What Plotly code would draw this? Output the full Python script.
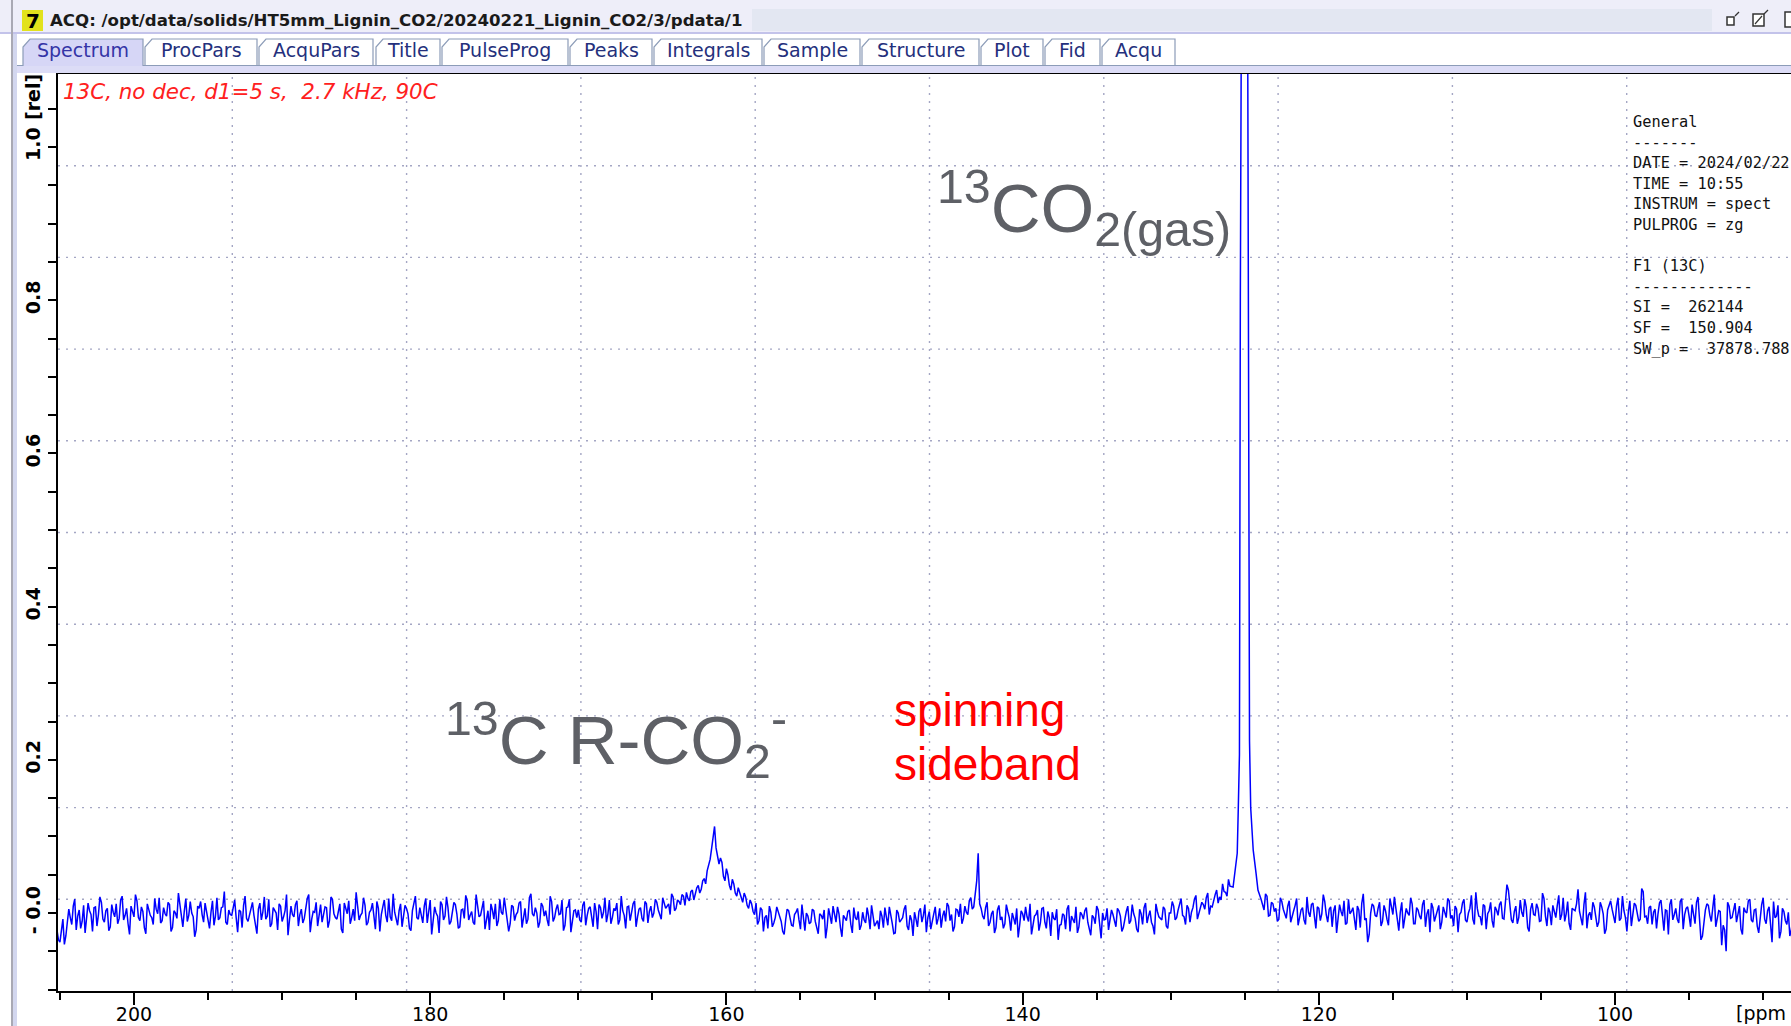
import plotly.graph_objects as go

# ---------------- data (intensities in 1/1000 rel units) ----------------
STEP = 0.2  # ppm spacing inside each list; the "b" lists sit half a step further upfield

seg1_start = 205.2   # baseline 205.2 -> ~170.2 ppm
seg1 = [-22, -38, -8, -30, 5, -15, 18, -4, -20, 10, -9, 3, -24, 8, -2, 14, -12, 6, -18, 1,
        12, -7, 22, -3, -14, 9, -5, 16, -10, 2, -27, 4, -6, 19, -1, -13, 7, -4, 11, -19,
        0, 26, -8, 3, -11, 15, -5, -22, 6, -2, 13, -9, 1, -16, 20, -6, 8, -12, 4, -3,
        17, -25, 2, 10, -7, -1, 14, -15, 5, -9, 21, -4, -18, 7, 0, 12, -11, 3, -29, 9,
        -5, 16, -2, -13, 6, 24, -8, 1, -17, 11, -3, 7, -10, 18, -6, 2, -21, 13, -1, -14,
        5, 27, -9, 0, 10, -12, 4, -7, 15, -24, 8, -3, 19, -10, 1, -16, 12, -5, 6, -20,
        3, 22, -8, -2, 9, -13, 17, -6, 0, -26, 11, -4, 7, -11, 14, -1, -18, 5, 23, -9,
        2, -15, 10, -3, 16, -7, -22, 4, 12, -10, 1, 20, -5, -14, 8, -2, 13, -19, 6, -8,
        25, -4, 0, -12, 9, 3, -17, 15, -6, 11, -1, -23, 7, 18, -9, 4]
seg1b = [-35, -18, -41, -12, -6, 9, -22, 4, -11, -26, 13, -2, 7, -17, 21, -8, 3, -23, 11, -5,
         -14, 17, -9, 6, -28, 1, 24, -6, 8, -19, 12, -3, -15, 5, 20, -10, -1, 14, -24, 3,
         -7, 11, -18, 19, -3, 0, -31, 9, 15, -12, 2, -20, 16, -4, -9, 7, 28, -15, -2, 10,
         -6, 4, -19, 22, -11, 6, -3, -27, 13, 1, -8, 18, -14, 3, -22, 9, -5, 24, -9, -2,
         11, -17, 5, -7, 19, -25, 2, 14, -4, -12, 8, -19, 21, -1, -8, 12, -26, 4, 16, -6,
         -10, 9, -3, 20, -16, 1, 13, -21, 6, -2, 17, -12, -5, 25, -8, 3, -18, 10, -1, -23,
         14, -6, 7, -13, 19, 2, -28, 8, -4, 15, -9, 21, -15, 0, 11, -20, 4, -7, 16, -3,
         -12, 24, -5, 9, -21, 3, 12, -8, -17, 18, -2, 6, -24, 10, -10, 1, 15, -6, -14, 20,
         -1, 7, -19, 13, -4, -9, 22, -11, 5, -2, 17, -16, 8, -25, 3, -6]

seg2_start = 170.0   # carboxylate hump ~160.8 ppm
seg2 = [4, -12, 15, -3, 8, -18, 2, 11, -7, 20, -1, -14, 6, 13, -9, 3, -20, 9, 0, 16,
        -5, 7, -11, 12, 2, -6, 18, 4, -8, 14, 9, -2, 21, 6, 15, 24, 10, 19, 28, 17,
        33, 26, 42, 38, 62, 84, 113, 76, 72, 48, 58, 36, 44, 26, 33, 18, 26, 10, 17, 2,
        13, -10, 4, -6, -20, 1, -13, 8, -4, -24, -9, 3, -16, -2, 6, -21, -8, 0, -14, 5,
        -11, -27, -3, 4, -18, -7, 9, -12, -1, -31, -6, 2, -15, 7, -9, -22, 1, -13, -4, 10, -17]
seg2b = [-9, 10, -16, 6, -4, 13, -21, 7, 1, -12, 17, -6, 3, -15, 22, -3, 8, -10, 12, -18,
         5, -7, 15, -13, 9, 0, 14, -4, 20, 6, 12, 25, 3, 17, 11, 22, 27, 16, 30, 24,
         36, 31, 45, 55, 70, 96, 85, 64, 66, 42, 50, 30, 38, 22, 27, 14, 21, 6, 12, -2,
         -15, 7, -24, -3, 9, -18, -6, 2, -11, -28, 5, -7, -17, 1, -9, 11, -23, -4, -12, 3,
         -20, -1, -8, -33, 6, -14, -5, 8, -19, -3, -10, 4, -26, -6, 2, -16, -9, 7, -21, -2]

seg3_start = 149.8   # spinning sideband ~143 ppm
seg3 = [-10, 3, -19, -5, 8, -14, -26, 0, -9, 5, -17, -3, -30, -8, 2, -12, 11, -6, -21, -1,
        -15, 6, -4, -11, 9, -2, -18, 4, 12, -7, 1, 16, 5, 28, 78, 6, -8, 14, -12, 3,
        -19, 10, -5, -14, 2, -23, -7, 6, -16, -1, 8, -11, -28, -4, 4, -13, 7, -20, -6, 1,
        -9, -35, -15, -3, 5, -24, -10, 8, -18, -2, 3, -12, -29, -6, 9, -16, 0, -8, -22, 4,
        -11, 6, -4, -19, 2, -14, 11, -7, -25, -1, 7, -13, 3, -17, 12, -5, -9, 5, -20, 0,
        9, -6, 14, -3, -15, 6, 1, 18, -8, 4, 11, 20, -2, 8, 24, 13, 17, 28, 22, 35]
seg3b = [-21, -4, 7, -16, -1, -27, 4, -12, -6, 10, -22, -9, 1, -18, 6, -3, -25, 2, -13, 8,
         -7, -19, 3, 13, -10, -24, 5, -5, -14, 9, -2, 20, 8, 42, 12, -4, 7, -17, -1, -26,
         4, -9, -20, 11, -6, 0, -15, -32, 3, -10, -5, 12, -18, -2, -23, 6, -12, 2, -30, -7,
         5, -16, -1, -21, 10, -4, -13, -26, 1, -8, 7, -20, -3, -14, 4, -33, -9, 6, -11, -2,
         -18, 3, -24, -6, 9, -10, -1, -21, 5, -15, 13, -4, -12, -28, 2, -7, 8, -17, 0, 15,
         -9, 4, 19, -5, 10, -12, 7, 23, -1, 14, 5, 26, 9, 18, 30, 21, 38, 27, 44]

# 13CO2 gas line (~125 ppm), goes off scale
peak_ppm = [125.79, 125.59, 125.51, 125.44, 125.36, 125.30, 125.17,
            124.85, 124.73, 124.68, 124.60, 124.49, 124.43, 124.24, 124.11]
peak_val = [34, 65, 78, 135, 207, 805, 1500,
            1500, 805, 224, 137, 108, 82, 52, 30]

seg4_start = 123.9   # baseline 123.9 -> 87.9 ppm
seg4 = [18, 4, 22, -3, 12, 6, -8, 15, -1, 9, -12, 3, 19, -6, 7, -15, 1, 11, -4, 8,
        -10, 24, -2, 5, -18, 10, -7, 2, 16, -13, -1, 7, -22, 4, 13, -9, -38, 0, 9, -5,
        14, -11, 3, -16, 8, 21, -6, 1, -20, 6, -3, 12, -14, 4, -8, 17, -1, -25, 7, -4,
        10, -12, 2, 19, -7, -17, 5, -2, 13, -9, 0, 23, -15, 6, -5, 11, -21, 3, -10, 8,
        -3, 15, -8, 37, 4, -13, 9, -6, 1, 18, -19, 5, -2, 12, -11, 26, -4, 7, -16, 2,
        10, -9, 20, -1, -14, 6, 3, 31, -7, 11, -20, 1, 14, -5, -12, 8, -27, 4, 16, -3,
        9, -10, 22, -6, 2, -17, 13, 0, -8, 28, -4, 7, -15, 5, -1, 17, -23, 3, 11, -9,
        6, -13, 19, -2, 8, -18, 1, 14, -7, -30, 4, 10, -11, 24, -5, 2, -16, -50, 9, -6,
        13, -3, -21, 7, 0, 18, -12, 5, -26, 11, -8, 3, -19, 15, -4, -33, 6, -10, 1, -22, 8]
seg4b = [9, 25, -4, 14, 2, -11, 20, 5, -7, 16, -2, 10, -16, 4, -9, 21, -5, 13, -20, 6,
         -1, 15, -12, 8, 3, -26, 11, -4, -15, 18, 2, -10, 9, -19, 25, -7, -28, 12, -3, 6,
         -17, 10, -8, 19, -2, 4, -23, 14, -9, 0, 20, -14, 7, -4, 11, -18, 5, 13, -11, 2,
         -21, 8, -6, 16, -3, 9, -25, 1, 18, -12, 6, -8, 27, -4, -16, 9, -1, 14, -19, 4,
         11, -7, 22, 30, -9, 2, -14, 17, -5, 8, -24, 13, -3, 6, -10, 19, -17, 1, 10, -6,
         23, -2, -11, 15, -22, 5, 12, 2, -16, 27, -3, -9, 8, -18, 14, -1, -21, 11, 5, -13,
         20, -7, 3, -24, 16, -2, 10, -11, 32, -5, -14, 9, 1, -20, 13, -6, 4, -28, 18, -2,
         -8, 15, -21, 6, -4, 11, -14, 21, -35, -9, 12, -3, 7, -18, 3, -42, -22, 14, -7, 5,
         -12, 9, -28, 2, 16, -9, 4, -17, -3, 20, -14, 8, -38, -6, 10, -24, 2, -15, -30, -4]

y_tickvals = [0.0, 0.2, 0.4, 0.6, 0.8, 1.0]
y_ticktext = ["- 0.0", "0.2", "0.4", "0.6", "0.8", "1.0"]

info_lines = ["General", "-------", "DATE = 2024/02/22", "TIME = 10:55",
              "INSTRUM = spect", "PULPROG = zg", "", "F1 (13C)", "-------------",
              "SI =  262144", "SF =  150.904", "SW_p =  37878.788"]

tabs = ["Spectrum", "ProcPars", "AcquPars", "Title", "PulseProg", "Peaks",
        "Integrals", "Sample", "Structure", "Plot", "Fid", "Acqu"]

# ---------------- assemble spectrum ----------------
def ppm_axis(start, vals):
    return [round(start - STEP * i, 3) for i in range(len(vals))]

half = STEP / 2
pairs = []
for start, a, b in [(seg1_start, seg1, seg1b), (seg2_start, seg2, seg2b),
                    (seg3_start, seg3, seg3b), (seg4_start, seg4, seg4b)]:
    pairs += list(zip(ppm_axis(start, a), a))
    pairs += list(zip(ppm_axis(start - half, b), b))
pairs += list(zip(peak_ppm, peak_val))
pairs.sort(key=lambda p: -p[0])
x = [p[0] for p in pairs]
y = [p[1] / 1000.0 for p in pairs]

# ---------------- geometry helpers ----------------
W, H = 1791, 1026
L, T, B, R = 58, 74, 35, 0
PW, PH = W - L - R, H - T - B

def px(v):
    return (v - L) / PW

def py(v):
    return 1 - (v - T) / PH

fig = go.Figure()
fig.add_trace(go.Scatter(x=x, y=y, mode="lines",
                         line=dict(color="#0000ff", width=1.5),
                         hoverinfo="skip"))

shapes = []
annos = []

# dotted grid (TopSpin divides window into 10 x 10)
for k in range(1, 10):
    gx = px(58 + 174.3 * k)
    shapes.append(dict(type="line", xref="paper", yref="paper", x0=gx, x1=gx, y0=0, y1=1,
                       line=dict(color="#a4a6c4", width=1.4, dash="2px,6px"), layer="below"))
    gy = py(74 + 91.7 * k)
    shapes.append(dict(type="line", xref="paper", yref="paper", x0=0, x1=1, y0=gy, y1=gy,
                       line=dict(color="#a4a6c4", width=1.4, dash="2px,6px"), layer="below"))

def rect(x0, y0, x1, y1, fill, line=None, lw=0):
    shapes.append(dict(type="rect", xref="paper", yref="paper",
                       x0=px(x0), x1=px(x1), y0=py(y1), y1=py(y0),
                       fillcolor=fill, line=dict(color=line or fill, width=lw),
                       layer="above"))

def seg(x0, y0, x1, y1, color, w):
    shapes.append(dict(type="line", xref="paper", yref="paper", x0=px(x0), x1=px(x1),
                       y0=py(y0), y1=py(y1), line=dict(color=color, width=w), layer="above"))

# window chrome: title bar
rect(0, 0, W, 33, "#eeeef9")
rect(752, 9, 1712, 31, "#e3e7f2")
seg(0, 33, W, 33, "#c3c3ea", 2)
rect(22, 10, 43, 31, "#e2e21c")
# window buttons
rect(1727, 17, 1734, 25, "white", "#333333", 1.5)
seg(1735, 16, 1739, 12, "#333333", 1.2)
rect(1753, 14, 1764, 26, "white", "#333333", 1.5)
seg(1755, 24, 1762, 16, "#333333", 1.2)
seg(1764, 14, 1768, 10, "#333333", 1.2)
rect(1785, 12, 1796, 27, "white", "#333333", 1.5)
# left border
rect(11, 0, 13, H, "#a9a9b4")
rect(13, 34, 17, H, "#d3d7ef")
# strip under tabs
rect(17, 65, W, 73, "#dcdcf6")
seg(17, 65.5, W, 65.5, "#8c9cb8", 1.2)

tab_px = [(23, 143), (145, 257), (259, 373), (376, 440), (442, 568), (570, 652),
          (654, 762), (764, 860), (862, 979), (981, 1043), (1045, 1100), (1102, 1175)]
for i, (name, (a, b)) in enumerate(zip(tabs, tab_px)):
    sel = i == 0
    path = "M {},{} L {},{} L {},{} L {},{} L {},{}".format(
        px(a), py(66 if sel else 65.5), px(a), py(47), px(a + 7), py(39),
        px(b), py(39), px(b), py(66 if sel else 65.5))
    if not sel:
        path += " Z"
    shapes.append(dict(type="path", xref="paper", yref="paper", path=path,
                       fillcolor="#d6d6f6" if sel else "white",
                       line=dict(color="#8c9cb8", width=1.2), layer="above"))
    annos.append(dict(text=name, x=px((a + b) / 2), y=py(50), xref="paper", yref="paper",
                      showarrow=False, xanchor="center", yanchor="middle",
                      font=dict(family="DejaVu Sans", size=19,
                                color="#3434a6" if sel else "#24307c")))

annos.append(dict(text="<b>7</b>", x=px(32.5), y=py(21), xref="paper", yref="paper",
                  showarrow=False, xanchor="center", yanchor="middle",
                  font=dict(family="DejaVu Sans", size=20, color="black")))
annos.append(dict(text="<b>ACQ: /opt/data/solids/HT5mm_Lignin_CO2/20240221_Lignin_CO2/3/pdata/1</b>",
                  x=px(48), y=py(20), xref="paper", yref="paper", showarrow=False,
                  xanchor="left", yanchor="middle",
                  font=dict(family="DejaVu Sans", size=16.6, color="#1a1a1a")))

# comment line in spectrum
annos.append(dict(text="<i>13C, no dec, d1=5 s,&nbsp; 2.7 kHz, 90C</i>", x=px(61), y=py(92),
                  xref="paper", yref="paper", showarrow=False, xanchor="left", yanchor="middle",
                  font=dict(family="DejaVu Sans", size=21.4, color="#ff2020")))

# parameter block
for i, s in enumerate(info_lines):
    if not s:
        continue
    annos.append(dict(text=s, x=px(1631), y=py(122 + 20.6 * i), xref="paper", yref="paper",
                      showarrow=False, xanchor="left", yanchor="middle",
                      font=dict(family="DejaVu Sans Mono", size=15.3, color="#111111")))

# peak labels
annos.append(dict(text="<sup>13</sup>CO<sub>2(gas)</sub>", x=px(935), y=py(157),
                  xref="paper", yref="paper", showarrow=False, xanchor="left", yanchor="top",
                  font=dict(family="Liberation Sans", size=69, color="#5e6066")))
annos.append(dict(text="<sup>13</sup>C R-CO<sub>2</sub><sup>-</sup>", x=px(443), y=py(689),
                  xref="paper", yref="paper", showarrow=False, xanchor="left", yanchor="top",
                  font=dict(family="Liberation Sans", size=69, color="#5e6066")))
annos.append(dict(text="spinning", x=px(892), y=py(682), xref="paper", yref="paper",
                  showarrow=False, xanchor="left", yanchor="top",
                  font=dict(family="Liberation Sans", size=46, color="#ff0000")))
annos.append(dict(text="sideband", x=px(892), y=py(736), xref="paper", yref="paper",
                  showarrow=False, xanchor="left", yanchor="top",
                  font=dict(family="Liberation Sans", size=46, color="#ff0000")))

# axis unit labels
annos.append(dict(text="<b>[rel]</b>", x=px(33), y=py(97), xref="paper", yref="paper",
                  showarrow=False, xanchor="center", yanchor="middle", textangle=-90,
                  font=dict(family="DejaVu Sans", size=19, color="black")))
annos.append(dict(text="[ppm", x=px(1734), y=py(1013), xref="paper", yref="paper",
                  showarrow=False, xanchor="left", yanchor="middle",
                  font=dict(family="DejaVu Sans", size=19, color="black")))

fig.update_layout(
    width=W, height=H,
    margin=dict(l=L, r=R, t=T, b=B, pad=0, autoexpand=False),
    paper_bgcolor="white", plot_bgcolor="white",
    showlegend=False,
    shapes=shapes, annotations=annos,
    xaxis=dict(range=[205.13, 88.12], tickmode="linear", tick0=0, dtick=20,
               automargin=False,
               ticks="outside", ticklen=12, tickwidth=1.5, tickcolor="black",
               showline=True, linewidth=2, linecolor="black", mirror=True,
               showgrid=False, zeroline=False, ticklabelstandoff=-7,
               tickfont=dict(family="DejaVu Sans", size=19, color="black"),
               minor=dict(tickmode="linear", tick0=0, dtick=5, ticklen=7, tickwidth=1.5,
                          tickcolor="black", ticks="outside", showgrid=False)),
    yaxis=dict(range=[-0.1018, 1.0953], tickmode="array", tickvals=y_tickvals,
               automargin=False,
               ticktext=["<b>" + t + "</b>" for t in y_ticktext], tickangle=-90,
               ticks="outside", ticklen=8, tickwidth=1.5, tickcolor="black",
               showline=True, linewidth=2, linecolor="black",
               showgrid=False, zeroline=False,
               tickfont=dict(family="DejaVu Sans", size=19, color="black"),
               minor=dict(tickmode="linear", tick0=0, dtick=0.05, ticklen=8, tickwidth=1.5,
                          tickcolor="black", ticks="outside", showgrid=False)),
)

fig.write_html("out.html")
